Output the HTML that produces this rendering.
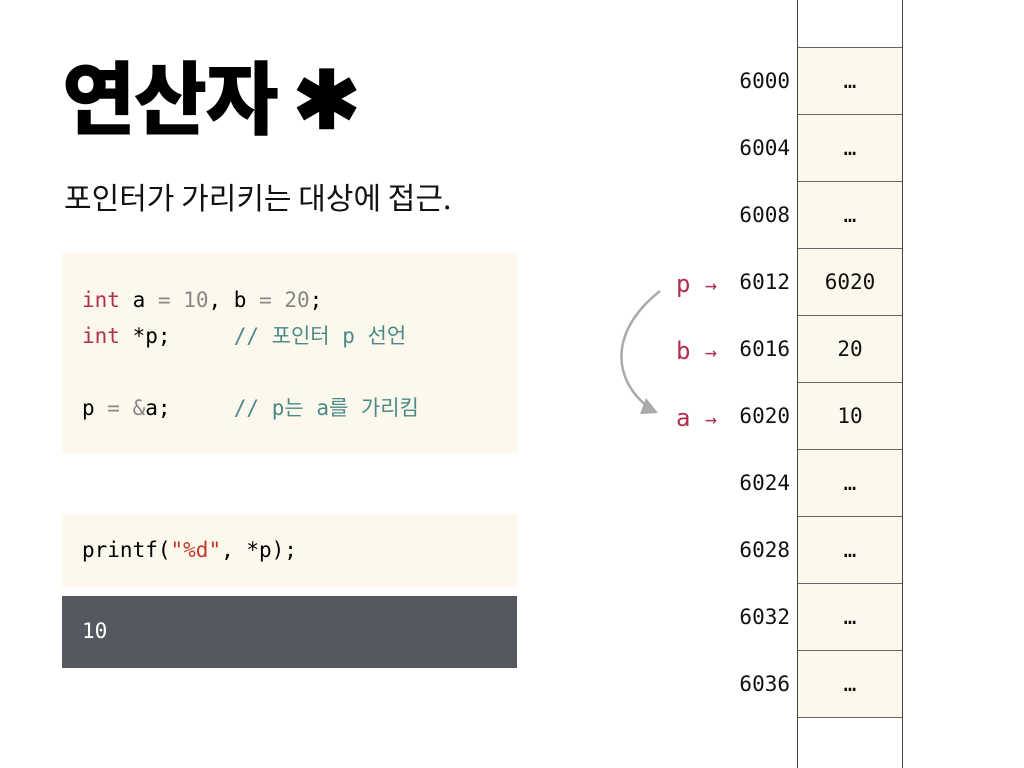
<!DOCTYPE html>
<html><head><meta charset="utf-8"><style>
body{margin:0;width:1024px;height:768px;background:#fff;position:relative;overflow:hidden;font-family:"Liberation Sans","Noto Sans CJK KR",sans-serif}
.abs{position:absolute}
.mono{font-family:"DejaVu Sans Mono","Liberation Mono","Noto Sans CJK KR",monospace;font-size:21px;white-space:pre}
.kw{color:#b0304f}.num{color:#888}.cm{color:#4a8a8a}.str{color:#c0392b}
.addr{position:absolute;width:80px;left:710px;text-align:right;font-family:"DejaVu Sans Mono","Liberation Mono",monospace;font-size:21px;color:#111}
.cell{position:absolute;left:797px;width:106px;background:#fcf8ec;border-bottom:1.5px solid #666;box-sizing:border-box;text-align:center;font-family:"DejaVu Sans Mono","Liberation Mono",monospace;font-size:21px;color:#111}
.lbl{position:absolute;left:676px;font-family:"DejaVu Sans Mono",monospace;font-size:24px;color:#b0304f}
</style></head><body>
<div class="abs" style="left:62px;top:36px;font-size:80px;font-weight:900;font-family:'Noto Sans CJK KR',sans-serif;letter-spacing:-2px">연산자 ✱</div>
<div class="abs" style="left:64px;top:174px;font-size:30px;font-family:'Noto Sans CJK KR',sans-serif;color:#111">포인터가 가리키는 대상에 접근.</div>
<div class="abs" style="left:62px;top:253px;width:455px;height:200px;background:#fdf8ec">
<div class="abs mono" style="left:20px;top:29px;line-height:36px"><span class="kw">int</span> a <span class="num">=</span> <span class="num">10</span>, b <span class="num">=</span> <span class="num">20</span>;
<span class="kw">int</span> *p;     <span class="cm">// 포인터 p 선언</span>

p <span class="num">=</span> <span class="num">&amp;</span>a;     <span class="cm">// p는 a를 가리킴</span></div></div>
<div class="abs" style="left:62px;top:514px;width:455px;height:73px;background:#fdf8ec">
<div class="abs mono" style="left:20px;top:24px">printf(<span class="str">"%d"</span>, *p);</div></div>
<div class="abs" style="left:62px;top:596px;width:455px;height:72px;background:#555860">
<div class="abs mono" style="left:20px;top:23px;color:#fff">10</div></div>
<div class="abs" style="left:797px;top:47px;width:106px;border-top:1.5px solid #666"></div>
<div id="mem"></div>
<div class="abs" style="left:797px;top:0;width:106px;height:768px;border-left:1.5px solid #444;border-right:1.5px solid #444;box-sizing:border-box"></div>
<svg class="abs" style="left:0;top:0" width="1024" height="768">
<path d="M660 291 C610 330,610 380,652 410" fill="none" stroke="#aaa" stroke-width="2.5"/>
<path d="M646 398 L658 413 L640 414 Z" fill="#aaa"/>
</svg>
<div class="lbl" style="top:270px">p <span style="font-size:20px">→</span></div>
<div class="lbl" style="top:337px">b <span style="font-size:20px">→</span></div>
<div class="lbl" style="top:404px">a <span style="font-size:20px">→</span></div>
<script>
const addrs=["6000","6004","6008","6012","6016","6020","6024","6028","6032","6036"];
const vals=["…","…","…","6020","20","10","…","…","…","…"];
const m=document.getElementById('mem');
addrs.forEach((a,i)=>{
const top=48+i*67;
const d=document.createElement('div');d.className='addr';d.style.top=(top+21)+'px';d.textContent=a;


m.appendChild(d);
const c=document.createElement('div');c.className='cell';c.style.top=top+'px';c.style.height='67px';c.style.lineHeight='67px';c.textContent=vals[i];


m.appendChild(c);
});
</script>
</body></html>
